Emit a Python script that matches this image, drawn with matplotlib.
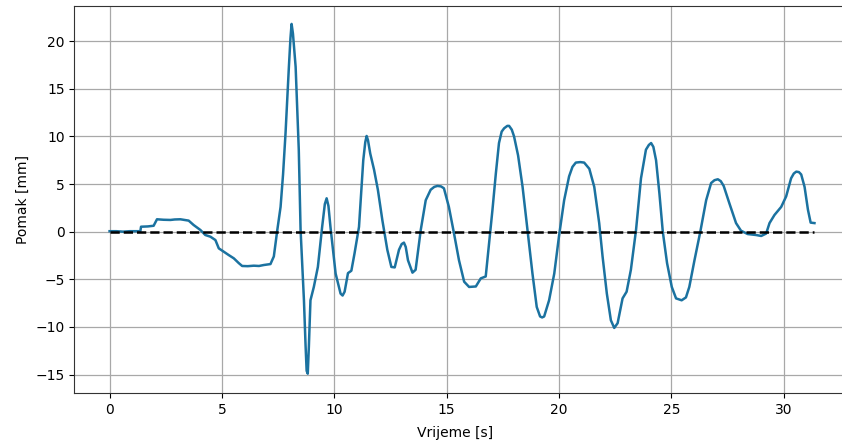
import numpy as np
import matplotlib
matplotlib.use('Agg')
import matplotlib.pyplot as plt

# vrijeme [s] i pomak [mm], ocitano sa slike
vrijeme = [0.0, 0.3, 0.6, 0.9, 1.2, 1.37, 1.4, 1.7, 1.96, 2.11, 2.4, 2.71, 2.9, 3.15,
           3.35, 3.52, 3.74, 4.04, 4.26, 4.49, 4.71, 4.86, 5.08, 5.3, 5.53, 5.75, 5.9,
           6.15, 6.42, 6.65, 6.86, 7.16, 7.31, 7.46, 7.61, 7.72, 7.83, 7.98, 8.05, 8.1,
           8.16, 8.28, 8.42, 8.5, 8.65, 8.72, 8.77, 8.82, 8.87, 8.94, 9.09, 9.27, 9.46,
           9.58, 9.66, 9.74, 9.83, 10.06, 10.28, 10.37, 10.46, 10.61, 10.76, 10.9, 11.1,
           11.29, 11.38, 11.44, 11.5, 11.6, 11.77, 11.94, 12.14, 12.36, 12.54, 12.69,
           12.88, 13.0, 13.1, 13.18, 13.28, 13.48, 13.62, 13.85, 14.07, 14.29, 14.45,
           14.59, 14.75, 14.88, 15.1, 15.33, 15.55, 15.78, 16.0, 16.3, 16.52, 16.74,
           16.89, 17.04, 17.19, 17.33, 17.45, 17.56, 17.7, 17.78, 17.9, 18.0, 18.18,
           18.38, 18.6, 18.82, 19.01, 19.16, 19.25, 19.34, 19.56, 19.79, 20.0, 20.23,
           20.45, 20.6, 20.75, 20.95, 21.12, 21.35, 21.57, 21.79, 21.94, 22.13, 22.31,
           22.46, 22.61, 22.83, 23.01, 23.2, 23.43, 23.65, 23.87, 24.0, 24.1, 24.2,
           24.32, 24.47, 24.62, 24.81, 25.02, 25.21, 25.46, 25.65, 25.8, 26.03, 26.29,
           26.55, 26.77, 26.92, 27.07, 27.2, 27.33, 27.58, 27.88, 28.1, 28.4, 28.77,
           29.0, 29.22, 29.37, 29.59, 29.89, 30.11, 30.33, 30.45, 30.56, 30.68, 30.78,
           30.93, 31.08, 31.2, 31.37]
pomak = [0.05, 0.05, 0.0, 0.05, 0.05, 0.05, 0.52, 0.55, 0.62, 1.3, 1.25, 1.23, 1.28, 1.3,
         1.22, 1.16, 0.7, 0.18, -0.35, -0.53, -0.88, -1.75, -2.1, -2.45, -2.8, -3.3,
         -3.6, -3.62, -3.57, -3.6, -3.5, -3.4, -2.6, 0.1, 2.6, 6.0, 10.3, 17.3, 20.3,
         21.8, 20.8, 17.3, 8.6, 0.2, -7.2, -11.8, -14.6, -14.9, -12.0, -7.2, -5.8, -3.7,
         0.5, 2.9, 3.5, 2.7, 0.5, -4.4, -6.5, -6.7, -6.3, -4.35, -4.1, -2.3, 0.5, 7.5,
         9.4, 10.04, 9.6, 8.2, 6.5, 4.4, 1.2, -1.9, -3.7, -3.75, -1.9, -1.3, -1.15, -1.6,
         -3.0, -4.3, -4.0, 0.2, 3.3, 4.4, 4.7, 4.8, 4.75, 4.55, 2.6, -0.2, -3.0, -5.25,
         -5.8, -5.75, -4.9, -4.7, -1.2, 2.3, 6.1, 9.3, 10.5, 10.85, 11.1, 11.1, 10.7,
         10.0, 8.0, 4.7, 0.18, -4.4, -7.9, -8.9, -9.0, -8.9, -7.2, -4.4, -0.5, 3.3, 5.8,
         6.8, 7.25, 7.3, 7.25, 6.6, 4.7, 0.9, -2.6, -6.5, -9.3, -10.1, -9.6, -7.0, -6.3,
         -4.0, 0.2, 5.6, 8.6, 9.1, 9.3, 8.9, 7.5, 4.0, 0.0, -3.3, -5.8, -7.0, -7.2,
         -6.9, -5.8, -3.0, 0.0, 3.3, 5.1, 5.4, 5.5, 5.3, 4.8, 3.0, 0.9, 0.1, -0.25,
         -0.35, -0.45, -0.2, 0.9, 1.75, 2.6, 3.7, 5.6, 6.1, 6.3, 6.25, 6.0, 4.7, 2.3,
         0.95, 0.9]

nula = [0, 0]
t_nula = [vrijeme[0], vrijeme[-1]]

fig = plt.figure(figsize=(8.42, 4.46), dpi=100)
# os je sira od slike, desni rub je odrezan kao na originalu
ax = fig.add_axes([74.3/842, 52.7/446, 800/842, 387.3/446])

ax.plot(vrijeme, pomak, color='#1b72a0', lw=1.8, zorder=3)
ax.plot(t_nula, nula, 'k--', lw=1.8, zorder=4)

ax.set_xlim(-1.57, -1.57 + 800/22.47)
ax.set_ylim(-16.96, 23.68)
ax.set_xticks([0, 5, 10, 15, 20, 25, 30])
ax.set_yticks([-15, -10, -5, 0, 5, 10, 15, 20])
ax.grid(True, color='#a8a8a8', lw=0.9)
ax.tick_params(labelsize=10)
ax.set_xlabel('Vrijeme [s]', fontsize=10)
ax.xaxis.set_label_coords(0.476, -0.085)
ax.set_ylabel('Pomak [mm]', fontsize=10)
for s in ax.spines.values():
    s.set_color('#333333')

fig.savefig('out.png', dpi=100)
